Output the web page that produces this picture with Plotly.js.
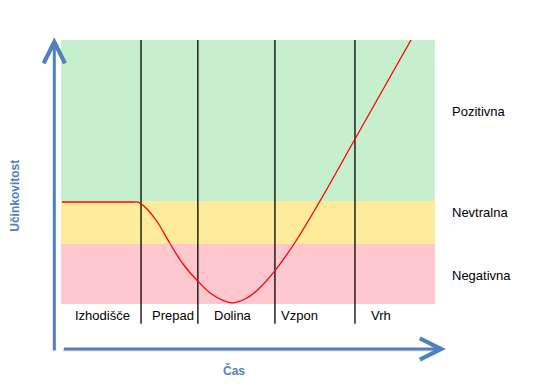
<!DOCTYPE html>
<html>
<head>
<meta charset="utf-8">
<script src="https://cdn.plot.ly/plotly-3.0.1.min.js"></script>
<style>html,body{margin:0;padding:0;background:#fff;}#chart{width:550px;height:392px;}</style>
</head>
<body>
<div id="chart"></div>
<script>
// Phases along time axis
const phases = ['Izhodišče', 'Prepad', 'Dolina', 'Vzpon', 'Vrh'];
const phaseBounds = [0, 2.14, 3.66, 5.72, 7.86, 10];
const phaseLabelX = [1.10, 2.99, 4.59, 6.37, 8.56];

// Performance zones
const zones = ['Negativna', 'Nevtralna', 'Pozitivna'];
const zoneBounds = [0, 2.27, 3.90, 10];
const zoneLabelY = [1.07, 3.47, 7.28];
const zoneColors = ['#ffc7ce', '#ffeb9c', '#c6efce'];

// Performance curve
const timeX = [0.027, 1.043, 1.711, 1.950, 2.059, 2.139, 2.299, 2.567, 2.914, 3.262, 3.663, 4.064, 4.564, 4.920, 5.275, 5.722, 6.230, 6.925, 7.869, 9.358];
const perfY = [3.864, 3.864, 3.864, 3.864, 3.860, 3.800, 3.598, 3.125, 2.292, 1.515, 0.860, 0.341, 0.045, 0.189, 0.557, 1.261, 2.273, 3.902, 6.269, 10.0];

const axisTitleY = 'Učinkovitost';
const axisTitleX = 'Čas';

const FONT = 'Liberation Sans, Arial, sans-serif';
const BLUE = '#4f81bd';

const shapes = [];
for (let i = 0; i < zones.length; i++) {
  shapes.push({type: 'rect', xref: 'x', yref: 'y', x0: phaseBounds[0], x1: phaseBounds[phaseBounds.length - 1],
    y0: zoneBounds[i], y1: zoneBounds[i + 1], fillcolor: zoneColors[i], line: {width: 0}, layer: 'below'});
}
for (let i = 1; i < phaseBounds.length - 1; i++) {
  shapes.push({type: 'line', xref: 'x', yref: 'y', x0: phaseBounds[i], x1: phaseBounds[i],
    y0: zoneBounds[zoneBounds.length - 1], y1: -0.75, line: {color: '#000', width: 1.3}, layer: 'below'});
}
// shadow under x arrow
shapes.push({type: 'line', xref: 'x', yref: 'y', x0: 0.04, x1: 10.0, y0: -1.76, y1: -1.76,
  line: {color: 'rgba(0,0,0,0.12)', width: 2}, layer: 'below'});

const annotations = [];
phases.forEach((p, i) => annotations.push({x: phaseLabelX[i], y: -0.45, xref: 'x', yref: 'y', text: p,
  showarrow: false, xanchor: 'center', yanchor: 'middle', font: {family: FONT, size: 13, color: '#000'}}));
zones.forEach((z, i) => annotations.push({x: 10.40, y: zoneLabelY[i], xref: 'x', yref: 'y', text: z,
  showarrow: false, xanchor: 'left', yanchor: 'middle', font: {family: FONT, size: 13, color: '#000'}}));

// axis arrows
annotations.push({x: -0.179, y: 10.10, ax: -0.179, ay: -1.82, xref: 'x', yref: 'y', axref: 'x', ayref: 'y',
  text: '', showarrow: true, arrowhead: 5, arrowsize: 1.4, arrowwidth: 3, arrowcolor: BLUE});
annotations.push({x: 10.29, y: -1.705, ax: 0.035, ay: -1.705, xref: 'x', yref: 'y', axref: 'x', ayref: 'y',
  text: '', showarrow: true, arrowhead: 5, arrowsize: 1.4, arrowwidth: 3, arrowcolor: BLUE});

// axis titles
annotations.push({x: -1.23, y: 4.1, xref: 'x', yref: 'y', text: '<b>' + axisTitleY + '</b>', textangle: -90,
  showarrow: false, xanchor: 'center', yanchor: 'middle', font: {family: FONT, size: 12, color: BLUE}});
annotations.push({x: 4.63, y: -2.52, xref: 'x', yref: 'y', text: '<b>' + axisTitleX + '</b>',
  showarrow: false, xanchor: 'center', yanchor: 'middle', font: {family: FONT, size: 12, color: BLUE}});

const trace = {x: timeX, y: perfY, type: 'scatter', mode: 'lines',
  line: {color: '#ff0000', width: 1.3, shape: 'spline', smoothing: 1}, hoverinfo: 'skip', cliponaxis: false};

const layout = {
  width: 550, height: 392,
  margin: {l: 0, r: 0, t: 0, b: 0},
  paper_bgcolor: '#fff', plot_bgcolor: 'rgba(0,0,0,0)',
  showlegend: false,
  xaxis: {range: [-1.631, 13.075], visible: false, fixedrange: true},
  yaxis: {range: [-3.333, 11.515], visible: false, fixedrange: true},
  shapes: shapes,
  annotations: annotations
};

Plotly.newPlot('chart', [trace], layout, {displayModeBar: false, staticPlot: true});
</script>
</body>
</html>
